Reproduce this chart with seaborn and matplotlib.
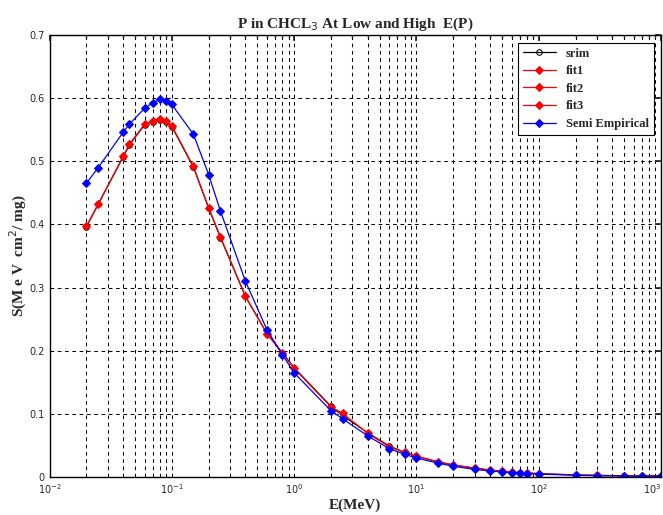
import matplotlib
matplotlib.use("Agg")
import matplotlib.pyplot as plt
import matplotlib.ticker as mticker
import seaborn as sns
import pandas as pd

# energies (MeV) and stopping powers (MeV cm^2/mg)
energy = [0.02, 0.025, 0.04, 0.045, 0.06, 0.07, 0.08, 0.09, 0.1, 0.15, 0.2, 0.25,
          0.4, 0.6, 0.8, 1.0, 2.0, 2.5, 4.0, 6.0, 8.0, 10.0, 15.0, 20.0, 30.0,
          40.0, 50.0, 60.0, 70.0, 80.0, 100.0, 200.0, 300.0, 500.0, 700.0, 1000.0]

srim = [0.396, 0.432, 0.507, 0.526, 0.558, 0.563, 0.566, 0.563, 0.555, 0.491, 0.426, 0.379,
        0.286, 0.227, 0.197, 0.173, 0.112, 0.097, 0.070, 0.049, 0.039, 0.033, 0.024, 0.019, 0.014,
        0.011, 0.009, 0.0078, 0.007, 0.0063, 0.0053, 0.0032, 0.0025, 0.0019, 0.0017, 0.0015]

fit = [0.397, 0.432, 0.508, 0.527, 0.559, 0.564, 0.567, 0.564, 0.556, 0.492, 0.4265, 0.38,
       0.286, 0.227, 0.196, 0.172, 0.111, 0.101, 0.069, 0.048, 0.039, 0.033, 0.024, 0.019, 0.014,
       0.011, 0.009, 0.0078, 0.007, 0.0063, 0.0053, 0.0032, 0.0025, 0.0019, 0.0017, 0.0015]

semi_emp = [0.465, 0.49, 0.546, 0.559, 0.584, 0.593, 0.598, 0.595, 0.590, 0.543, 0.479, 0.421,
            0.31, 0.233, 0.194, 0.165, 0.105, 0.092, 0.065, 0.045, 0.036, 0.030, 0.022, 0.017, 0.012,
            0.0095, 0.008, 0.0068, 0.006, 0.0055, 0.0046, 0.0027, 0.0021, 0.0015, 0.0013, 0.0011]

# three fit ranges share their end points
fit1_idx = slice(0, 14)    # 0.02 - 0.6 MeV
fit2_idx = slice(13, 22)   # 0.6 - 10 MeV
fit3_idx = slice(21, 36)   # 10 - 1000 MeV


def main():
    sns.set_theme(style="white")
    plt.rcParams["font.family"] = ["Liberation Serif", "DejaVu Serif"]

    fig = plt.figure(figsize=(6.63, 5.15), dpi=100)
    ax = fig.add_axes([0.0747, 0.0738, 0.9223, 0.8582])

    sns.lineplot(x=energy, y=srim, ax=ax, color="black", marker="o", markersize=4,
                 markerfacecolor="none", markeredgecolor="black", linewidth=0.9, label="srim")
    for name, idx in [("fit1", fit1_idx), ("fit2", fit2_idx), ("fit3", fit3_idx)]:
        sns.lineplot(x=energy[idx], y=fit[idx], ax=ax, color="red", marker="D", markersize=4.5,
                     markeredgecolor="red", linewidth=0.9, label=name)
    sns.lineplot(x=energy, y=semi_emp, ax=ax, color="blue", marker="D", markersize=4.5,
                 markeredgecolor="blue", linewidth=0.9, label="Semi Empirical")

    ax.set_xscale("log")
    ax.set_xlim(1e-2, 1e3)
    ax.set_ylim(0, 0.7)
    ax.yaxis.set_major_locator(mticker.MultipleLocator(0.1))
    ax.yaxis.set_major_formatter(mticker.FuncFormatter(lambda v, p: "0" if v == 0 else f"{v:.1f}"))
    ax.xaxis.set_major_locator(mticker.LogLocator(base=10, numticks=10))
    ax.xaxis.set_minor_locator(mticker.LogLocator(base=10, subs=range(2, 10), numticks=20))

    ax.grid(True, which="major", color="black", linestyle=(0, (3.5, 3.5)), linewidth=0.75)
    ax.grid(True, which="minor", axis="x", color="black", linestyle=(0, (3.5, 3.5)), linewidth=0.75)

    ax.tick_params(which="both", direction="in", top=True, right=True, labelsize=7,
                   labelfontfamily="DejaVu Sans")
    ax.tick_params(which="major", length=4)
    ax.tick_params(which="minor", length=2)
    for sp in ax.spines.values():
        sp.set_color("black")
        sp.set_linewidth(1.0)

    # keep the last decade label inside the figure
    fig.canvas.draw()
    xlabels = ax.get_xticklabels()
    for lab in xlabels:
        if abs(lab.get_position()[0] - 1e3) < 1:
            lab.set_horizontalalignment("right")

    ax.set_title(r"P in CHCL$_3$ At Low and High  E(P)", fontsize=11, fontweight="bold", pad=5)
    ax.set_xlabel("E(MeV)", fontsize=11, fontweight="bold", labelpad=2)
    ax.set_ylabel(r"S(M e V  cm$^2$/ mg)", fontsize=11, fontweight="bold", labelpad=0)

    leg = ax.legend(loc="upper right", frameon=True, fancybox=False,
                    edgecolor="black", borderaxespad=0.6, handlelength=2.6,
                    labelspacing=0.45, prop={"weight": "bold", "size": 9})
    leg.get_frame().set_linewidth(0.8)
    leg.get_frame().set_alpha(1)

    fig.savefig("out.png", dpi=100)


if __name__ == "__main__":
    main()
